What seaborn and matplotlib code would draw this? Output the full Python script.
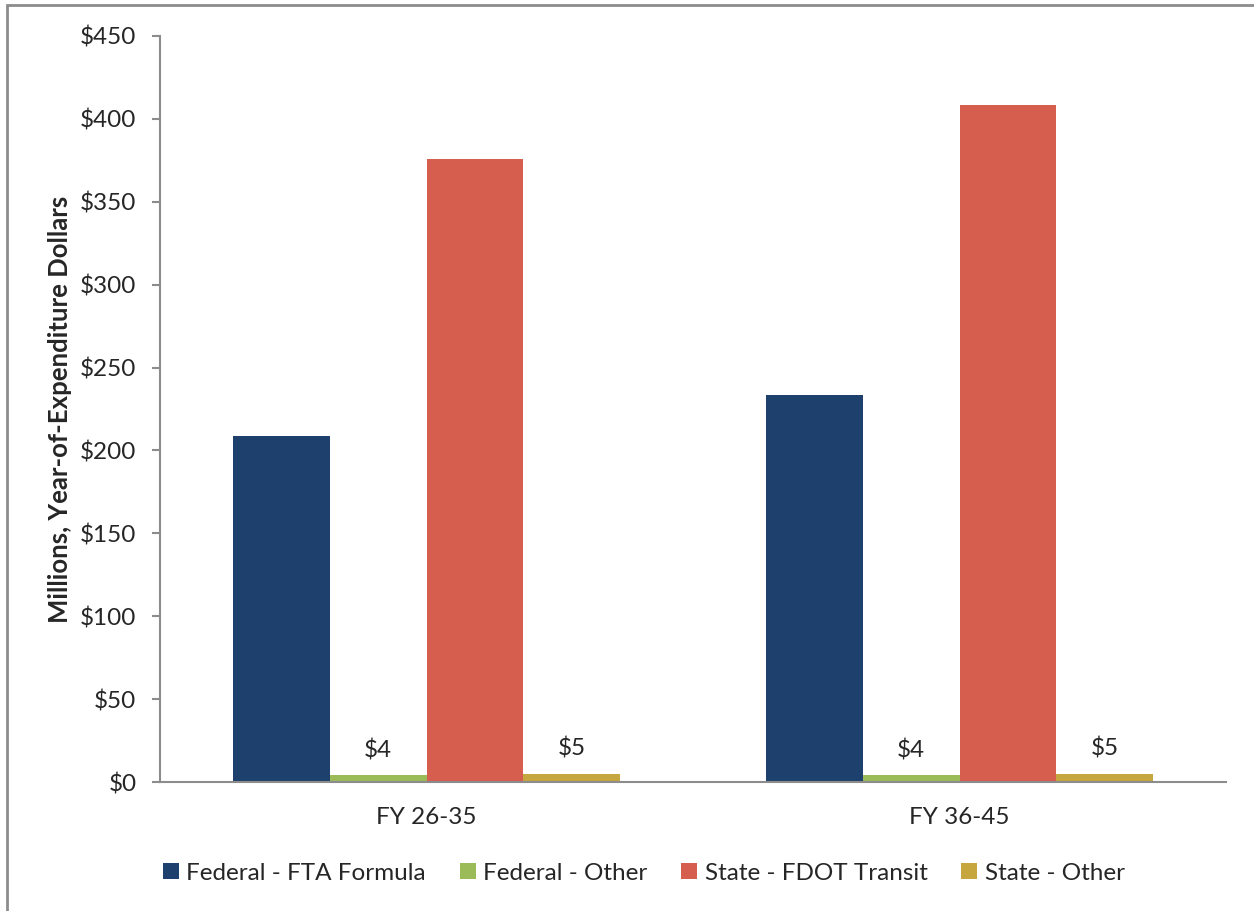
import matplotlib

matplotlib.use("Agg")
import matplotlib.pyplot as plt
import pandas as pd
import seaborn as sns
from matplotlib.patches import Rectangle
from matplotlib.ticker import FuncFormatter, FixedLocator

# %%
periods = ["FY 26-35", "FY 36-45"]
sources = [
    "Federal - FTA Formula",
    "Federal - Other",
    "State - FDOT Transit",
    "State - Other",
]
fta_formula = [208.7, 233.4]
federal_other = [4, 4]
fdot_transit = [375.5, 408.5]
state_other = [5, 5]
labelled = ["Federal - Other", "State - Other"]

colors = ["#1D416C", "#9BBB59", "#D65E4F", "#C6A63F"]

df = pd.DataFrame(
    {
        "period": periods * 4,
        "source": [s for s in sources for _ in periods],
        "value": fta_formula + federal_other + fdot_transit + state_other,
    }
)

# %%
sns.set_style("white")
plt.rcParams["font.family"] = ["Lato", "DejaVu Sans"]

fig = plt.figure(figsize=(12.54, 9.11), dpi=100)
ax = fig.add_axes([0.1276, 0.1416, 0.8501, 0.8189])

sns.barplot(
    data=df,
    x="period",
    y="value",
    hue="source",
    hue_order=sources,
    palette=colors,
    width=0.726,
    saturation=1,
    edgecolor="none",
    linewidth=0,
    ax=ax,
)

for cont, src in zip(ax.containers, sources):
    if src in labelled:
        ax.bar_label(
            cont,
            labels=[f"${v:.0f}" for v in cont.datavalues],
            padding=10,
            fontsize=17.5,
        )

ax.set_ylim(0, 450)
ax.set_xlim(-0.5, 1.5)
ax.set_yticks(range(0, 451, 50))
ax.yaxis.set_major_formatter(FuncFormatter(lambda v, p: f"${v:.0f}"))
ax.set_xlabel("")
ax.set_ylabel(
    "Millions, Year-of-Expenditure Dollars", fontsize=18.5, fontweight="bold", labelpad=6
)
ax.xaxis.set_major_locator(FixedLocator([0, 1]))
ax.xaxis.set_minor_locator(FixedLocator([-0.5, 0.5, 1.5]))
ax.tick_params(axis="x", which="major", length=0, labelsize=17.5, pad=18)
ax.tick_params(axis="x", which="minor", length=7, width=1.5, color="#8C8C8C", direction="out")
ax.tick_params(axis="y", length=6, width=1.5, color="#8C8C8C", labelsize=17.5, pad=11, left=True)

for side in ["top", "right"]:
    ax.spines[side].set_visible(False)
for side in ["left", "bottom"]:
    ax.spines[side].set_color("#8C8C8C")
    ax.spines[side].set_linewidth(1.5)

handles, lbls = ax.get_legend_handles_labels()
ax.legend(
    handles,
    lbls,
    loc="center",
    bbox_to_anchor=(0.5135, 0.0417),
    bbox_transform=fig.transFigure,
    ncol=4,
    frameon=False,
    fontsize=17.5,
    handlelength=0.65,
    handleheight=0.65,
    handletextpad=0.3,
    columnspacing=1.4,
)

fig.patches.append(
    Rectangle(
        (7 / 1254, -0.05),
        1.2,
        1.05 - 5.5 / 911,
        transform=fig.transFigure,
        fill=False,
        edgecolor="#8C8C8C",
        linewidth=2,
        figure=fig,
    )
)

fig.savefig("out.png", dpi=100)
